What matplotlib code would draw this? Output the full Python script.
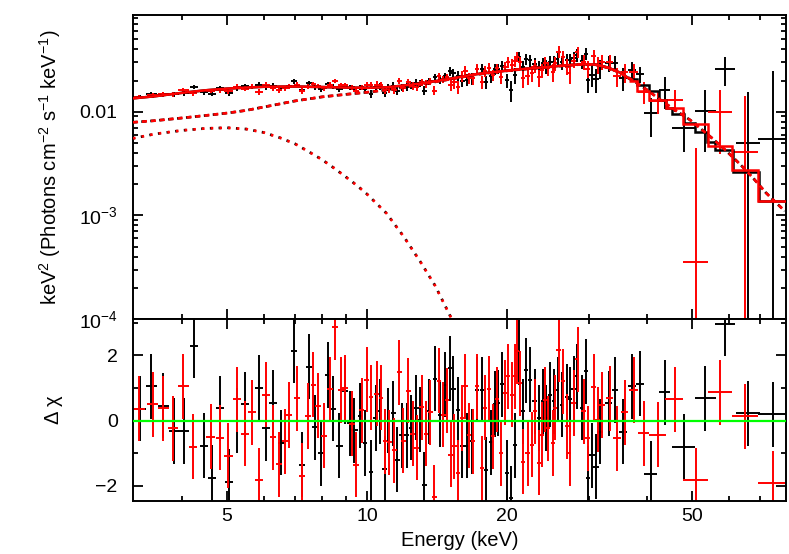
import numpy as np
import matplotlib
matplotlib.use('Agg')
import matplotlib.pyplot as plt
from matplotlib.ticker import FixedLocator, FixedFormatter, NullFormatter, LogLocator

# FPMA (black) -- bin centre, half width (keV), keV^2 flux (1e-3), error (1e-3), delchi
e_a = [3.25, 3.44, 3.65, 3.85, 4.04, 4.25, 4.46, 4.64, 4.83, 5.05,
       5.25, 5.47, 5.85, 6.06, 6.27, 6.53, 6.97, 7.24, 7.50, 7.72,
       7.95, 8.23, 8.45, 8.72, 8.97, 9.19, 9.39, 9.66, 9.90, 10.20,
       10.44, 10.67, 10.90, 11.11, 11.39, 11.62, 11.87, 12.17, 12.43, 12.75,
       13.00, 13.28, 13.59, 14.00, 14.36, 14.71, 15.08, 15.33, 15.67, 16.03,
       16.39, 16.80, 17.22, 17.65, 18.03, 18.45, 18.85, 19.16, 19.54, 19.97,
       20.37, 20.81, 21.26, 21.62, 21.97, 22.41, 22.90, 23.36, 23.87, 24.26,
       24.75, 25.16, 25.66, 26.23, 26.89, 27.33, 27.78, 28.25, 28.96, 29.58,
       29.90, 30.42, 31.08, 31.70, 33.03, 34.15, 35.47, 37.08, 38.64, 40.68,
       43.59, 47.89, 53.33, 58.88, 65.89, 74.37]
de_a = [.09, .09, .10, .10, .11, .09, .09, .10, .10, .11,
        .11, .11, .12, .12, .13, .10, .11, .11, .12, .12,
        .12, .13, .13, .14, .14, .14, .15, .11, .11, .12,
        .12, .12, .13, .13, .13, .13, .14, .14, .14, .15,
        .15, .15, .16, .16, .17, .17, .17, .18, .18, .19,
        .19, .17, .17, .17, .18, .18, .19, .19, .19, .20,
        .20, .21, .21, .21, .22, .22, .23, .23, .24, .24,
        .25, .25, .25, .26, .27, .27, .28, .28, .29, .29,
        .30, .46, .47, .48, .50, .51, .75, .78, .81, 1.35,
        1.25, 2.77, 2.78, 2.89, 3.96, 5.0]
f_a = [13.9, 14.7, 14.7, 14.7, 15.0, 17.4, 15.4, 14.9, 16.8, 15.1,
       16.9, 17.6, 18.3, 17.2, 17.9, 16.8, 19.6, 16.2, 19.0, 17.2,
       16.4, 18.6, 17.5, 16.4, 17.9, 17.0, 16.8, 17.1, 16.4, 14.8,
       17.2, 17.5, 15.2, 17.3, 17.8, 15.9, 17.2, 17.4, 17.9, 19.1,
       18.7, 16.0, 19.7, 21.7, 20.3, 22.2, 24.8, 23.5, 22.3, 19.8,
       20.2, 21.0, 25.6, 26.0, 19.3, 22.0, 25.7, 26.0, 27.9, 20.1,
       16.1, 22.5, 33.7, 26.9, 32.0, 31.2, 28.7, 26.9, 29.2, 27.3,
       30.5, 30.1, 32.1, 30.1, 31.6, 31.3, 33.1, 35.1, 30.6, 36.1,
       20.1, 22.8, 20.7, 26.1, 29.3, 29.5, 21.3, 25.4, 23.0, 9.66,
       16.2, 7.01, 10.2, 25.8, 4.95, 5.45]
ferr_a = [.69, .70, .72, .75, .77, .78, .80, .82, .83, .84,
          .93, .94, .95, .96, .96, .96, .96, .96, .96, .95,
          .95, .95, .95, .94, .94, .94, .94, .94, .94, 1.36,
          1.37, 1.37, 1.38, 1.38, 1.40, 1.41, 1.42, 1.44, 1.46, 1.48,
          1.50, 1.52, 1.54, 1.58, 1.60, 1.63, 2.50, 2.53, 2.57, 2.62,
          2.66, 2.72, 2.76, 2.80, 2.83, 2.87, 2.90, 2.93, 2.95, 2.99,
          3.77, 3.81, 3.84, 3.87, 3.90, 3.93, 3.96, 3.99, 4.02, 4.05,
          4.08, 4.66, 4.69, 4.73, 4.78, 4.79, 4.83, 4.85, 4.88, 4.88,
          4.88, 5.43, 5.40, 5.30, 5.05, 4.75, 5.30, 4.70, 4.20, 3.90,
          5.60, 2.90, 6.10, 8.20, 10.5, 19.2]
chi_a = [0.36, 1.05, 0.45, -0.32, -0.32, 2.30, -0.77, -1.75, 0.38, -1.88,
         0.00, 0.50, 1.00, -0.24, 0.55, -0.68, 2.15, -1.36, 1.66, -0.20,
         -1.00, 1.40, 0.36, -0.77, 0.90, -0.08, -0.30, 0.15, -0.69, -1.59,
         0.08, 0.29, -1.48, 0.00, 0.23, -1.20, -0.45, -0.45, -0.22, 0.39,
         0.03, -1.97, 0.29, 1.28, 0.18, 1.10, 1.61, 0.97, 0.34, -0.77,
         -0.77, -0.63, 0.95, 0.95, -1.51, -0.66, 0.51, 0.54, 1.11, -1.61,
         -2.38, -0.76, 2.10, 0.29, 1.54, 1.26, 0.59, 0.08, 0.59, 0.08,
         0.80, 0.59, 0.95, 0.49, 0.73, 0.65, 0.98, 1.36, 0.39, 1.52,
         -1.77, -1.06, -1.42, -0.34, 0.53, 0.94, -0.34, 1.05, 1.13, -1.63,
         0.87, -0.80, 0.68, 2.98, 0.22, 0.20]

# FPMB (red)
e_b = [3.24, 3.46, 3.65, 3.83, 4.03, 4.23, 4.61, 4.83, 5.03, 5.25,
       5.47, 5.67, 5.85, 6.06, 6.27, 6.46, 6.66, 6.79, 7.06, 7.26,
       7.48, 7.67, 7.86, 8.09, 8.33, 8.54, 8.78, 8.97, 9.27, 9.47,
       9.74, 9.99, 10.20, 10.49, 10.72, 10.93, 11.17, 11.45, 11.72, 11.97,
       12.27, 12.54, 12.79, 13.11, 13.39, 13.68, 13.96, 14.28, 14.59, 14.84,
       15.14, 15.41, 15.67, 15.99, 16.25, 16.57, 16.93, 17.27, 17.65, 17.94,
       18.32, 18.63, 19.01, 19.39, 19.81, 20.13, 20.47, 20.81, 21.05, 21.33,
       21.68, 22.12, 22.61, 22.98, 23.36, 23.75, 24.15, 24.54, 25.09, 25.37,
       25.79, 26.36, 26.89, 27.23, 27.78, 28.33, 29.19, 29.77, 30.67, 31.28,
       31.97, 33.20, 34.44, 35.75, 37.38, 39.28, 42.10, 45.81, 50.93, 57.42,
       65.01, 74.56]
de_b = [.09, .09, .10, .10, .11, .09, .10, .10, .11, .11,
        .11, .11, .12, .12, .10, .10, .10, .10, .11, .11,
        .11, .11, .12, .12, .12, .13, .13, .13, .14, .14,
        .11, .12, .12, .12, .12, .13, .13, .13, .14, .14,
        .14, .15, .15, .15, .16, .16, .16, .17, .17, .17,
        .18, .18, .18, .19, .19, .19, .17, .17, .17, .18,
        .18, .18, .19, .19, .20, .20, .20, .21, .21, .21,
        .21, .22, .22, .23, .23, .24, .24, .24, .25, .25,
        .26, .26, .27, .27, .28, .28, .35, .36, .40, .40,
        .50, .60, .65, .70, .75, 1.15, 1.75, 2.05, 3.10, 3.40,
        4.05, 5.30]
f_b = [13.9, 14.4, 14.7, 14.7, 16.1, 15.0, 15.9, 16.1, 15.8, 17.5,
       16.7, 17.4, 15.6, 18.2, 16.9, 16.2, 16.8, 17.7, 18.2, 15.9,
       17.5, 18.4, 17.7, 16.9, 18.2, 19.9, 18.0, 18.0, 17.0, 15.8,
       17.3, 18.2, 18.0, 18.2, 18.1, 16.3, 16.4, 16.2, 19.8, 17.0,
       19.4, 17.7, 17.3, 19.4, 18.5, 19.8, 16.0, 22.0, 20.6, 21.5,
       18.3, 19.2, 17.3, 22.0, 24.8, 21.2, 21.0, 25.9, 19.2, 24.6,
       26.6, 22.6, 26.2, 21.6, 27.3, 30.1, 28.2, 30.6, 33.7, 30.1,
       21.0, 22.2, 23.4, 27.7, 21.4, 25.1, 29.6, 26.2, 24.2, 29.3,
       38.0, 33.6, 27.2, 23.4, 31.0, 37.6, 30.1, 26.0, 34.2, 28.4,
       30.3, 29.9, 22.0, 24.0, 24.1, 15.6, 12.7, 13.0, 0.356, 10.0,
       4.06, -6.0]
ferr_b = [.69, .70, .72, .74, .76, .78, .81, .83, .84, .93,
          .94, .95, .95, .96, .96, .96, .96, .96, .96, .96,
          .96, .95, .95, .95, .95, .95, .94, .94, .94, .94,
          .94, .94, 1.36, 1.37, 1.37, 1.38, 1.38, 1.40, 1.42, 1.43,
          1.45, 1.46, 1.48, 1.50, 1.53, 1.55, 1.58, 1.60, 1.62, 1.64,
          2.51, 2.54, 2.57, 2.62, 2.64, 2.69, 2.74, 2.76, 2.80, 2.82,
          2.86, 2.88, 2.92, 2.94, 2.98, 3.75, 3.78, 3.81, 3.83, 3.86,
          3.89, 3.92, 3.95, 3.98, 3.99, 4.02, 4.05, 4.07, 4.66, 4.68,
          4.71, 4.74, 4.78, 4.79, 4.83, 4.85, 4.88, 4.88, 5.43, 5.38,
          5.28, 5.00, 4.67, 5.00, 4.60, 3.60, 3.30, 3.15, 4.08, 6.10,
          10.1, 5.0]
chi_b = [0.36, 0.50, 0.38, -0.24, 1.05, -0.80, -0.49, -0.52, -1.08, 0.66,
         -0.41, 0.26, -1.83, 0.79, -0.51, -1.34, -0.64, 0.17, 0.69, -1.69,
         0.14, 1.10, 0.46, -0.46, 0.96, 2.87, 0.94, 1.01, -0.10, -1.35,
         0.31, 1.26, 0.72, 0.82, 0.70, -0.64, -0.67, -0.91, 1.49, -0.62,
         0.92, -0.41, -0.84, 0.41, -0.41, 0.26, -2.35, 1.23, 0.18, 0.62,
         -1.05, -0.79, -1.61, 0.08, 1.06, -0.45, -0.64, 1.06, -1.46, 0.39,
         0.98, -0.48, 0.65, -1.00, 0.85, 1.36, 0.80, 1.36, 2.13, 1.15,
         -1.27, -1.00, -0.74, 0.29, -1.30, -0.43, 0.64, -0.23, -0.69, 0.39,
         2.18, 1.21, -0.18, -1.00, 0.54, 1.88, 0.28, -0.55, 1.03, 0.02,
         0.48, 0.69, -0.55, 0.25, 0.94, -0.39, -0.44, 0.66, -1.83, 0.87,
         0.13, -1.92]

# total model (smooth part, 1e-3) and the coarse bins at high energy
model_e = [3.14, 3.5, 4.0, 4.5, 5.0, 5.5, 6.0, 7.0, 8.0, 9.0, 10.0, 11.0, 12.0,
           13.0, 14.0, 15.0, 17.0, 19.0, 21.0, 23.0, 25.0, 27.0, 29.0, 31.0,
           33.0, 35.0, 36.5]
model_f = [13.45, 14.1, 15.2, 16.1, 16.7, 17.1, 17.4, 17.5, 17.3, 17.1, 17.0,
           17.2, 17.9, 18.7, 19.7, 20.7, 22.9, 24.3, 25.5, 26.4, 27.3, 28.1,
           28.7, 28.5, 26.6, 23.8, 21.0]
step_e_a = [36.5, 38.0, 40.3, 42.3, 43.8, 45.2, 47.9, 50.75, 53.8, 56.0, 61.3, 69.4, 79.8]
step_f_a = [20.5, 18.1, 15.8, 13.0, 10.9, 9.44, 7.7, 6.33, 5.06, 4.27, 2.6, 1.38]
step_e_b = [36.6, 38.1, 40.35, 43.8, 47.85, 54.0, 60.9, 69.2, 79.9]
step_f_b = [20.0, 16.0, 13.0, 10.9, 7.55, 4.7, 2.74, 1.38]

# model components (1e-3)
dash_e = [3.14, 3.5, 4.0, 4.5, 5.0, 5.5, 6.0, 7.0, 8.0, 9.0, 10.0, 11.0, 12.0,
          13.0, 14.0, 15.0, 17.0, 19.0, 21.0, 23.0, 25.0, 27.0, 29.0, 31.0,
          33.0, 35.0, 37.0, 40.0, 43.0, 46.0, 49.5, 55.3, 59.1, 63.4, 67.5,
          72.0, 79.0]
dash_f = [7.9, 8.2, 8.7, 9.2, 9.7, 10.3, 11.1, 12.7, 13.9, 14.7, 15.4, 16.2,
          17.2, 18.3, 19.4, 20.5, 22.7, 24.2, 25.4, 26.3, 27.2, 28.0, 28.6,
          28.4, 26.5, 23.7, 20.5, 16.2, 12.7, 10.3, 8.3, 5.5, 4.2, 3.1, 2.3,
          1.65, 1.1]
dot_e = [3.14, 3.5, 4.0, 4.5, 5.0, 5.5, 6.0, 6.5, 7.0, 7.5, 8.0, 8.5, 9.0,
         9.5, 10.0, 11.0, 12.0, 13.0, 14.0, 15.2]
dot_f = [5.53, 6.1, 6.6, 6.9, 7.0, 6.8, 6.3, 5.6, 4.9, 4.1, 3.45, 2.85, 2.35,
         1.95, 1.6, 1.05, 0.62, 0.36, 0.21, 0.10]

plt.rcParams['font.family'] = ['Liberation Sans', 'DejaVu Sans']
plt.rcParams['mathtext.default'] = 'regular'
plt.rcParams['font.size'] = 14

sc = 1e-3
fig = plt.figure(figsize=(7.89, 5.54), dpi=100)
ax1 = fig.add_axes([0.1686, 0.4242, 0.8276, 0.5487])
ax2 = fig.add_axes([0.1686, 0.0951, 0.8276, 0.3291], sharex=ax1)

# top panel: unfolded spectrum
ax1.set_yscale('log')
ax1.errorbar(e_a, np.array(f_a) * sc, xerr=de_a, yerr=np.array(ferr_a) * sc,
             fmt='none', ecolor='black', elinewidth=1.4, capsize=0, zorder=2)
ax1.errorbar(e_b, np.array(f_b) * sc, xerr=de_b, yerr=np.array(ferr_b) * sc,
             fmt='none', ecolor='red', elinewidth=1.4, capsize=0, zorder=2)

ax1.plot(model_e, np.array(model_f) * sc, color='black', lw=1.8, zorder=3)
ax1.stairs(np.array(step_f_a) * sc, step_e_a, color='black', lw=1.8,
           baseline=None, zorder=3)
ax1.plot(model_e, np.array(model_f) * sc, color='red', lw=1.8, zorder=4)
ax1.stairs(np.array(step_f_b) * sc, step_e_b, color='red', lw=1.8,
           baseline=None, zorder=4)

# components: black copy sits under the red one, peeking out a little
ax1.plot(dash_e, np.array(dash_f) * sc, color='black', lw=1.9,
         ls=(0.25, (1.9, 1.5)), zorder=3)
ax1.plot(dash_e, np.array(dash_f) * sc, color='red', lw=1.9,
         ls=(0, (1.9, 1.5)), zorder=4)
ax1.plot(dot_e, np.array(dot_f) * sc, color='black', lw=1.9,
         ls=(0.3, (1.0, 2.3)), zorder=3)
ax1.plot(dot_e, np.array(dot_f) * sc, color='red', lw=1.9,
         ls=(0, (1.0, 2.3)), zorder=4)

# bottom panel: residuals
ax2.errorbar(e_a, chi_a, xerr=de_a, yerr=1.0, fmt='none', ecolor='black',
             elinewidth=1.4, capsize=0, zorder=2)
ax2.errorbar(e_b, chi_b, xerr=de_b, yerr=1.0, fmt='none', ecolor='red',
             elinewidth=1.4, capsize=0, zorder=2)
ax2.axhline(0, color='#00ff00', lw=1.6, zorder=5)

for ax in (ax1, ax2):
    ax.set_xscale('log')
    for s in ax.spines.values():
        s.set_linewidth(1.4)
    ax.tick_params(which='both', direction='in', top=True, right=True,
                   width=1.3, colors='black')
    ax.tick_params(which='major', length=7, pad=5)
    ax.tick_params(which='minor', length=3.8)

ax1.set_xlim(3.14, 79.5)
ax1.xaxis.set_major_locator(FixedLocator([5, 10, 20, 50]))
ax1.xaxis.set_minor_locator(FixedLocator([4, 6, 7, 8, 9, 30, 40, 60, 70]))
ax1.xaxis.set_major_formatter(FixedFormatter(['5', '10', '20', '50']))
ax1.xaxis.set_minor_formatter(NullFormatter())
ax1.tick_params(labelbottom=False)

ax1.set_ylim(1e-4, 0.0857)
ax1.yaxis.set_major_locator(FixedLocator([1e-4, 1e-3, 1e-2]))
ax1.yaxis.set_major_formatter(FixedFormatter(['$10^{-4}$', '$10^{-3}$', '0.01']))
ax1.yaxis.set_minor_locator(LogLocator(base=10, subs=np.arange(2, 10)))
ax1.yaxis.set_minor_formatter(NullFormatter())
ax1.tick_params(axis='y', which='major', pad=11)

ax2.set_ylim(-2.48, 3.12)
ax2.yaxis.set_major_locator(FixedLocator([-2, 0, 2]))
ax2.yaxis.set_minor_locator(FixedLocator([-1, 1, 3]))
ax2.tick_params(axis='y', which='major', pad=11)

ax1.set_ylabel(r'keV$^2$ (Photons cm$^{-2}$ s$^{-1}$ keV$^{-1}$)', fontsize=14.5)
ax2.set_ylabel('Δ χ', fontsize=14.5)
ax2.set_xlabel('Energy (keV)', fontsize=14.5)
ax1.yaxis.set_label_coords(-0.108, 0.5)
ax2.yaxis.set_label_coords(-0.108, 0.5)

fig.savefig('out.png', dpi=100)
